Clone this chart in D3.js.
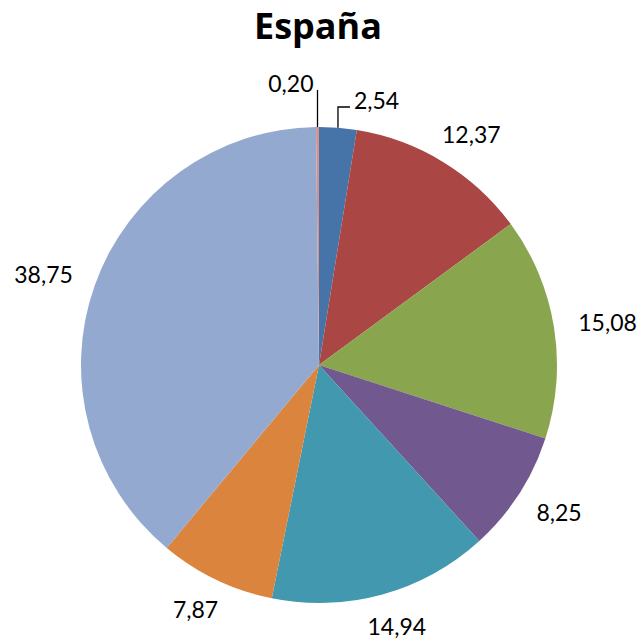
<!DOCTYPE html>
<html><head><meta charset="utf-8">
<script src="https://cdn.jsdelivr.net/npm/d3@7"></script>
<style>body{margin:0;background:#fff}svg{display:block}</style>
</head><body>
<script>
const title = "España";
const categories = ["C1","C2","C3","C4","C5","C6","C7","C8"];
const values = [2.54, 12.37, 15.08, 8.25, 14.94, 7.87, 38.75, 0.20];
const valueLabels = ["2,54","12,37","15,08","8,25","14,94","7,87","38,75","0,20"];
const colors = ["#4674A8","#AA4644","#89A54E","#71588F","#4198AF","#DB843D","#93A9CF","#D19392"];

const W = 639, H = 640;
const cx = 319, cy = 365, r = 238;
const font = "Lato, 'Open Sans', sans-serif";

const svg = d3.select("body").append("svg").attr("width", W).attr("height", H);

svg.append("text").attr("x", 318).attr("y", 39).attr("text-anchor","middle")
  .attr("font-family", "'Open Sans', Lato, sans-serif").attr("font-weight","bold").attr("font-size", 36)
  .attr("fill","#000").text(title);

const pie = d3.pie().sort(null).value(d => d.v);
const data = pie(categories.map((c,i) => ({c, v: values[i], label: valueLabels[i], color: colors[i]})));
const arc = d3.arc().innerRadius(0).outerRadius(r);

const g = svg.append("g").attr("transform", `translate(${cx},${cy})`);
g.selectAll("path").data(data).join("path")
  .attr("d", arc).attr("fill", d => d.data.color);

const fs = 23;
const labelR = 263;
const small = data.filter(d => d.data.v < 3).sort((a,b) => b.data.v - a.data.v);
data.forEach(d => {
  const a = (d.startAngle + d.endAngle) / 2;
  const s = Math.sin(a), c = Math.cos(a);
  if (d.data.v < 3) {
    const k = small.indexOf(d);
    const x0 = r * s, y0 = -r * c;
    const topY = -(r + 20 + 17 * k);
    const hx = s > 0.01 ? 12 : 0;
    g.append("path")
      .attr("d", `M${x0},${y0}L${x0},${topY}L${x0 + hx},${topY}`)
      .attr("fill","none").attr("stroke","#000").attr("stroke-width",1.3);
    const t = g.append("text").attr("font-family", font).attr("font-size", fs)
      .attr("dominant-baseline","central").attr("fill","#000").text(d.data.label);
    if (hx > 0) t.attr("x", x0 + hx + 4).attr("y", topY - 7).attr("text-anchor","start");
    else t.attr("x", x0 - 4).attr("y", topY - 7).attr("text-anchor","end");
  } else {
    const t = g.append("text").attr("font-family", font).attr("font-size", fs)
      .attr("text-anchor","middle").attr("dominant-baseline","central")
      .attr("fill","#000").text(d.data.label);
    const bb = t.node().getBBox();
    const x = labelR * s + bb.width / 2 * s;
    const y = -labelR * c - 8 * c;
    t.attr("x", x).attr("y", y);
  }
});
</script>
</body></html>
